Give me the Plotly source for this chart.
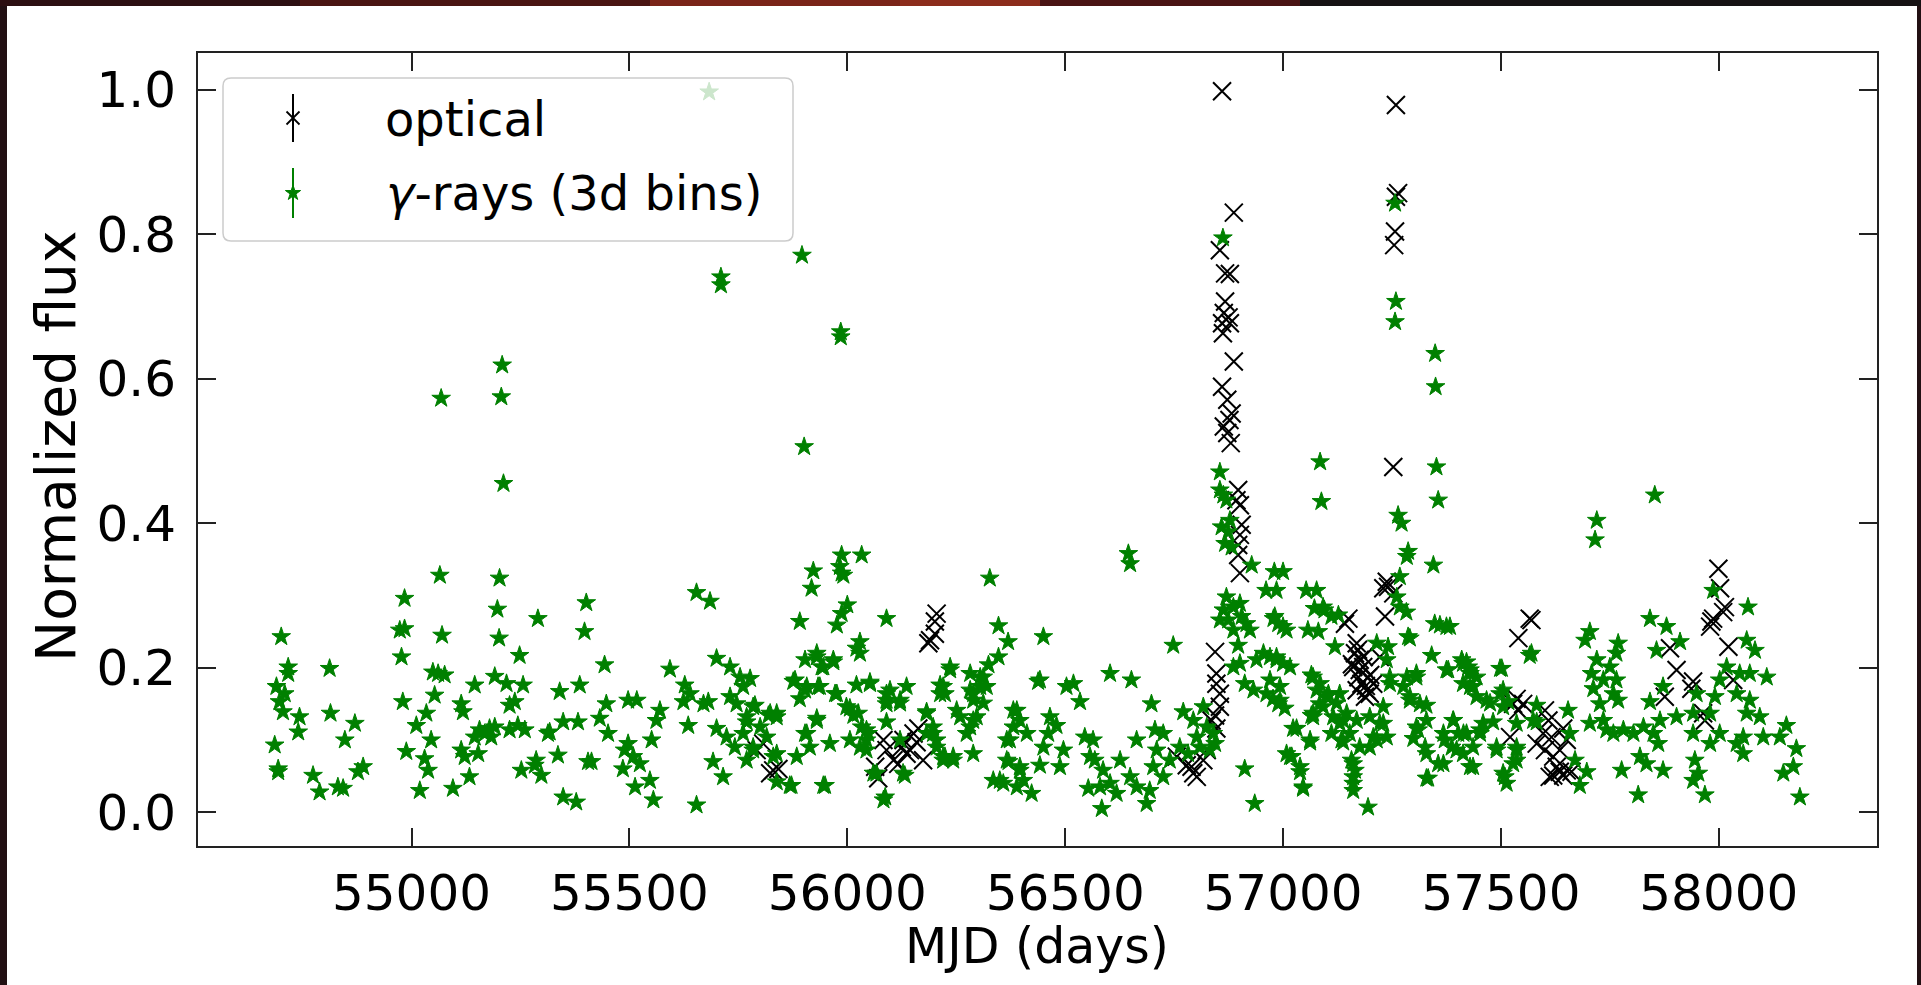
import math
import plotly.graph_objects as go

# ---------------- data ----------------
gamma_mjd = [
    54701, 54717, 54717, 54690, 54709, 54697, 54705, 54743, 54740, 54686, 54694, 54694, 54812, 54814, 54870,
    54847, 54774, 54789, 54831, 54843, 54877, 54889, 54984, 54973, 54984, 54977, 54980, 54988, 55019, 55065,
    55070, 55049, 55061, 55076, 55053, 55034, 55011, 55045, 55030, 55038, 55095, 55114, 55118, 55145, 55114,
    55122, 55133, 55145, 55156, 55168, 55179, 55191, 55183, 55153, 55202, 55197, 55201, 55191, 55218, 55248,
    55256, 55225, 55237, 55244, 55260, 55225, 55290, 55340, 55348, 55317, 55313, 55336, 55286, 55283, 55298,
    55252, 55348, 55378, 55401, 55397, 55386, 55382, 55443, 55447, 55432, 55451, 55405, 55413, 55489, 55485,
    55497, 55068, 55208, 55206, 55211, 55683, 55710, 55710, 55896, 55901, 55985, 55985,
    55654, 55685, 55891, 55922, 55918, 55987, 55983, 55987, 56033, 56000, 55987, 55976, 56090, 56029, 56021,
    56327, 56347, 56369, 56438, 56347, 56324, 56312, 56305, 56236, 56213, 56224, 56282, 56289, 56259, 56289,
    56274, 56243, 56220, 56289, 56335, 56358, 56389, 56423, 56381, 56396, 56412, 56366, 56370, 56396, 56450,
    56442, 55700, 55731, 55754, 55777, 55593, 55627, 55639, 55624, 55570, 55562, 55517, 55681, 55670, 55731,
    55746, 55788, 55635, 55700, 55723, 55769, 55761, 55819, 55838, 55497, 55509, 55524, 55551, 55547, 55513,
    55555, 55654, 55692, 55715, 55742, 55784, 55838, 55838, 55872, 55884, 55903, 55914, 55949, 55960, 55930,
    55876, 55903, 55903, 55930, 55941, 55968, 55937, 55972, 56006, 56014, 56021, 56052, 56033, 56048, 56044,
    56090, 56090, 56136, 56121, 56090, 56121, 56132, 56087, 56060, 56182, 56197, 56205, 56224,
    57085, 57088, 57352, 57356, 56645, 56649, 56855, 56855, 56863, 56870, 56859, 56878, 56874, 56867, 56882,
    56928, 57264, 57272, 57287, 57284, 57345, 57268, 57261, 57268, 57283, 57287, 57348, 57375, 57341, 57379,
    57410, 57425, 57413, 56980, 56961, 57053, 57072, 57095, 57057, 57111, 56870, 56863, 56886, 56901, 56855,
    56874, 56905, 56916, 56886, 56924, 56897, 56978, 56989, 57008, 56748, 56450, 56955, 56970, 56985, 57000,
    57016, 56939, 56886, 56901, 56912, 56932, 56962, 56977, 56989, 57004, 56970, 57069, 57077, 57100, 57084,
    57130, 57115, 57138, 57065, 57111, 57134, 57153, 57176, 57222, 57207, 57238, 57245, 57230, 57276, 57306,
    57291, 57314, 57329, 57310, 57299, 57326, 57333, 57356, 57371, 57390, 57402, 57413, 57398, 57157, 57165,
    57161, 57195, 57046, 57039, 57020, 57008, 57069, 57062, 57023, 56912, 56935, 56844, 56832, 56840, 56825,
    56817, 56771, 56794, 56802, 56698, 56664, 56706, 56725, 56710, 56702, 56694, 56687, 56725, 56740, 56652,
    56603, 56519, 56503, 56534, 56465, 56480, 56461, 56442, 56496, 56488, 56545, 56564, 56557, 56568, 56587,
    56603, 56580, 56553, 56618, 56584, 56626, 56649, 56664, 56763, 56782, 56809,
    56862, 57257, 57259, 57257, 57349, 57350,
    57853, 57720, 57716, 57987, 58067, 57842, 57880, 57704, 57693, 57769, 57911, 57857, 57720, 57708, 57750,
    57765, 58064, 58083, 58110, 58018, 58048, 58071, 58002, 58041, 58071, 58094, 58064, 58102, 58056, 58041,
    58056, 58155, 58140, 58178, 58171, 58148, 58186, 57991, 57980, 58002, 57980, 57949, 57941, 57941, 57945,
    57953, 57941, 57968, 57903, 57872, 57842, 57865, 57850, 57861, 57827, 57819, 57834, 57872, 57815, 57777,
    57804, 57781, 57758, 57742, 57735, 57704, 57727, 57758, 57712, 57735, 57765, 57769, 57697, 57681, 57654,
    57658, 57498, 57429, 57413, 57436, 57467, 57498, 57517, 57566, 57582, 57582, 57536, 57482, 57452, 57421,
    57436, 57490, 57536, 57528, 57436, 57509, 57513, 57670,
    57000, 56985, 57077, 57092, 56981, 57000, 57081, 57127, 57291, 57360, 57383, 57570, 56985, 56993, 56993,
    57065, 57085, 57104, 57123, 57119, 57215, 57241, 57238, 57245, 57284, 57306, 57291, 57329, 57375, 57421,
    57429, 57444, 57429, 57444, 57475, 57502, 57505, 57069, 57031, 57062, 57016, 57039, 57046, 57130, 57146,
    57169, 57199, 57230, 57138, 57199, 57215, 57161, 57161, 57161, 57306, 57329, 57329, 57368, 57391, 57387,
    57368, 57429, 57414, 57459, 57452, 57490, 57505, 57536, 57536, 57574, 57505, 57092,
    55991, 56029, 55930, 55968, 55945, 55880, 55907, 55933, 55891, 55976, 56052, 56098, 56090, 56121, 55998,
    56025, 56044, 56044, 55761, 55784, 55823, 55838, 55769, 55800, 55815, 55784, 55769, 55830, 55868, 55907,
    55930, 55945, 56006, 56029, 56083, 56128, 56067, 56182, 56182, 56197, 56205, 56220, 56243, 56220, 56213,
    56236, 56282, 56305, 56289, 56320, 56251, 56297, 56282, 56312, 56389, 56381, 56373, 56366, 56396, 56350,
    56404,
]
gamma_flux = [
    0.243, 0.201, 0.192, 0.174, 0.164, 0.153, 0.139, 0.132, 0.111, 0.093, 0.060, 0.056, 0.199, 0.137, 0.123,
    0.100, 0.051, 0.028, 0.035, 0.033, 0.056, 0.063, 0.296, 0.252, 0.254, 0.215, 0.153, 0.084, 0.030, 0.328,
    0.245, 0.194, 0.192, 0.190, 0.162, 0.137, 0.120, 0.100, 0.074, 0.058, 0.033, 0.150, 0.139, 0.176, 0.086,
    0.077, 0.049, 0.104, 0.114, 0.109, 0.116, 0.118, 0.104, 0.081, 0.324, 0.281, 0.241, 0.188, 0.178, 0.217,
    0.176, 0.148, 0.153, 0.120, 0.114, 0.114, 0.268, 0.167, 0.125, 0.111, 0.109, 0.079, 0.072, 0.065, 0.051,
    0.058, 0.021, 0.014, 0.290, 0.250, 0.176, 0.125, 0.204, 0.150, 0.130, 0.109, 0.070, 0.070, 0.086, 0.060,
    0.155, 0.573, 0.619, 0.575, 0.455, 0.997, 0.741, 0.730, 0.771, 0.506, 0.665, 0.658,
    0.304, 0.292, 0.264, 0.334, 0.310, 0.356, 0.340, 0.331, 0.356, 0.287, 0.275, 0.259, 0.268, 0.236, 0.227,
    0.324, 0.258, 0.236, 0.181, 0.215, 0.204, 0.187, 0.174, 0.201, 0.176, 0.164, 0.169, 0.155, 0.132, 0.127,
    0.109, 0.077, 0.072, 0.081, 0.044, 0.040, 0.035, 0.026, 0.141, 0.127, 0.109, 0.100, 0.070, 0.058, 0.090,
    0.065, 0.213, 0.201, 0.187, 0.185, 0.198, 0.176, 0.164, 0.153, 0.141, 0.127, 0.155, 0.153, 0.150, 0.160,
    0.150, 0.148, 0.120, 0.116, 0.104, 0.125, 0.109, 0.134, 0.137, 0.095, 0.077, 0.067, 0.100, 0.044, 0.035,
    0.017, 0.010, 0.070, 0.049, 0.090, 0.086, 0.081, 0.042, 0.037, 0.077, 0.109, 0.090, 0.037, 0.095, 0.130,
    0.181, 0.169, 0.211, 0.220, 0.201, 0.211, 0.174, 0.164, 0.144, 0.134, 0.176, 0.178, 0.118, 0.109, 0.086,
    0.164, 0.150, 0.174, 0.155, 0.125, 0.100, 0.051, 0.021, 0.054, 0.139, 0.109, 0.100, 0.077,
    0.485, 0.430, 0.478, 0.432, 0.358, 0.344, 0.471, 0.446, 0.439, 0.432, 0.395, 0.404, 0.388, 0.372, 0.367,
    0.342, 0.411, 0.400, 0.361, 0.354, 0.342, 0.326, 0.298, 0.284, 0.277, 0.243, 0.261, 0.257, 0.217, 0.197,
    0.211, 0.201, 0.178, 0.333, 0.307, 0.307, 0.282, 0.280, 0.252, 0.271, 0.298, 0.280, 0.284, 0.289, 0.266,
    0.266, 0.271, 0.261, 0.252, 0.252, 0.231, 0.268, 0.261, 0.252, 0.231, 0.243, 0.220, 0.215, 0.211, 0.206,
    0.201, 0.211, 0.201, 0.206, 0.178, 0.169, 0.164, 0.157, 0.150, 0.144, 0.183, 0.187, 0.169, 0.160, 0.150,
    0.164, 0.132, 0.127, 0.134, 0.109, 0.100, 0.109, 0.090, 0.123, 0.104, 0.104, 0.178, 0.146, 0.174, 0.187,
    0.155, 0.150, 0.127, 0.114, 0.102, 0.090, 0.047, 0.067, 0.100, 0.127, 0.109, 0.081, 0.086, 0.072, 0.058,
    0.040, 0.007, 0.035, 0.063, 0.077, 0.081, 0.137, 0.100, 0.116, 0.060, 0.012, 0.095, 0.086, 0.109, 0.118,
    0.146, 0.139, 0.127, 0.104, 0.150, 0.100, 0.114, 0.109, 0.086, 0.063, 0.030, 0.012, 0.049, 0.072, 0.183,
    0.192, 0.178, 0.174, 0.153, 0.132, 0.120, 0.109, 0.183, 0.086, 0.063, 0.104, 0.100, 0.077, 0.072, 0.058,
    0.040, 0.035, 0.033, 0.026, 0.005, 0.072, 0.049, 0.035, 0.090, 0.081, 0.090,
    0.795, 0.843, 0.707, 0.679, 0.635, 0.589,
    0.439, 0.404, 0.377, 0.307, 0.284, 0.268, 0.257, 0.250, 0.238, 0.234, 0.236, 0.224, 0.211, 0.192, 0.201,
    0.220, 0.238, 0.224, 0.187, 0.201, 0.192, 0.192, 0.183, 0.164, 0.155, 0.132, 0.137, 0.104, 0.104, 0.095,
    0.081, 0.120, 0.104, 0.088, 0.063, 0.054, 0.021, 0.160, 0.137, 0.109, 0.095, 0.164, 0.137, 0.109, 0.072,
    0.054, 0.044, 0.024, 0.132, 0.174, 0.153, 0.127, 0.109, 0.095, 0.118, 0.077, 0.067, 0.058, 0.024, 0.058,
    0.109, 0.114, 0.109, 0.114, 0.127, 0.123, 0.150, 0.164, 0.171, 0.183, 0.183, 0.155, 0.056, 0.037, 0.141,
    0.109, 0.199, 0.197, 0.206, 0.174, 0.155, 0.164, 0.153, 0.217, 0.148, 0.125, 0.123, 0.125, 0.114, 0.109,
    0.090, 0.090, 0.086, 0.067, 0.063, 0.049, 0.040, 0.072,
    0.333, 0.307, 0.307, 0.284, 0.271, 0.257, 0.250, 0.273, 0.241, 0.259, 0.257, 0.220, 0.215, 0.174, 0.155,
    0.190, 0.178, 0.164, 0.151, 0.229, 0.234, 0.229, 0.211, 0.187, 0.187, 0.192, 0.160, 0.148, 0.197, 0.208,
    0.192, 0.187, 0.174, 0.160, 0.151, 0.199, 0.169, 0.132, 0.116, 0.097, 0.077, 0.056, 0.033, 0.123, 0.137,
    0.127, 0.132, 0.123, 0.097, 0.090, 0.100, 0.067, 0.049, 0.030, 0.118, 0.081, 0.047, 0.109, 0.127, 0.090,
    0.067, 0.063, 0.109, 0.123, 0.109, 0.086, 0.054, 0.072, 0.090, 0.127, 0.146, 0.146,
    0.328, 0.220, 0.215, 0.208, 0.201, 0.183, 0.174, 0.174, 0.157, 0.164, 0.180, 0.169, 0.155, 0.151, 0.146,
    0.137, 0.114, 0.100, 0.174, 0.146, 0.137, 0.132, 0.132, 0.118, 0.104, 0.090, 0.072, 0.077, 0.037, 0.109,
    0.127, 0.037, 0.100, 0.090, 0.017, 0.054, 0.054, 0.137, 0.109, 0.118, 0.090, 0.077, 0.072, 0.174, 0.164,
    0.197, 0.192, 0.187, 0.164, 0.174, 0.141, 0.132, 0.118, 0.151, 0.141, 0.118, 0.100, 0.072, 0.063, 0.044,
    0.044,
]

optical_mjd = [
    56205, 56201, 56201, 56190, 56186, 55807, 55792, 55830, 55823, 55842, 56083, 56071, 56064, 56106, 56125,
    56136, 56152, 56163, 56159, 56144, 56174, 56129, 56117, 56090,
    56860, 57259, 57264, 57259, 57257, 57255, 56887, 56855, 56867, 56878, 56867, 56864, 56875, 56860, 56878,
    56862, 56887, 56860, 56872, 56882, 56877, 56864, 56872, 56880, 56897, 56893, 56901, 56905, 56901, 56897,
    56897, 56901, 57253, 56844, 56847, 56847, 56855, 56844, 56836, 56847, 56855, 56817, 56756, 56790, 56794,
    56802, 56779, 56825, 57238, 57241, 57253, 57230, 57234, 57150, 57142, 57169, 57165, 57176, 57161, 57184,
    57173, 57195, 57180, 57207, 57169, 57192, 57188, 57199, 57222, 57176,
    57999, 58003, 58014, 58010, 57987, 57980, 57983, 58022, 57888, 57903, 57941, 57937, 57876, 57964, 57968,
    58033, 57566, 57570, 57540, 57536, 57551, 57540, 57528, 57521, 57601, 57609, 57597, 57582, 57601, 57620,
    57635, 57643, 57651, 57616, 57628, 57620, 57635, 57651, 57662, 57612, 57643,
    57158, 57190, 57200, 57172, 57185,
]
optical_flux = [
    0.275, 0.264, 0.247, 0.238, 0.234, 0.095, 0.086, 0.058, 0.054, 0.060, 0.100, 0.047, 0.063, 0.072, 0.090,
    0.081, 0.109, 0.116, 0.097, 0.086, 0.072, 0.100, 0.067, 0.086,
    0.998, 0.979, 0.857, 0.852, 0.804, 0.785, 0.830, 0.778, 0.746, 0.745, 0.707, 0.691, 0.685, 0.677, 0.677,
    0.663, 0.624, 0.589, 0.571, 0.552, 0.543, 0.534, 0.525, 0.511, 0.446, 0.432, 0.425, 0.398, 0.384, 0.370,
    0.356, 0.331, 0.478, 0.222, 0.192, 0.178, 0.164, 0.134, 0.127, 0.116, 0.146, 0.072, 0.077, 0.063, 0.054,
    0.049, 0.065, 0.086, 0.319, 0.312, 0.303, 0.310, 0.271, 0.268, 0.261, 0.234, 0.220, 0.211, 0.201, 0.201,
    0.187, 0.187, 0.178, 0.178, 0.169, 0.169, 0.160, 0.164, 0.215, 0.197,
    0.337, 0.310, 0.284, 0.277, 0.268, 0.257, 0.264, 0.229, 0.227, 0.197, 0.181, 0.171, 0.160, 0.137, 0.127,
    0.183, 0.268, 0.266, 0.241, 0.157, 0.150, 0.141, 0.150, 0.104, 0.141, 0.127, 0.109, 0.095, 0.086, 0.077,
    0.086, 0.116, 0.100, 0.104, 0.063, 0.051, 0.056, 0.058, 0.056, 0.049, 0.051,
    0.205, 0.175, 0.190, 0.225, 0.215,
]
assert len(gamma_mjd) == len(gamma_flux), (len(gamma_mjd), len(gamma_flux))
assert len(optical_mjd) == len(optical_flux), (len(optical_mjd), len(optical_flux))

x_ticks = [55000, 55500, 56000, 56500, 57000, 57500, 58000]
y_ticks = [0.0, 0.2, 0.4, 0.6, 0.8, 1.0]
legend_labels = ["optical", "<i>γ</i>-rays (3d bins)"]
x_title = "MJD (days)"
y_title = "Normalized flux"

# ---------------- layout geometry (pixels) ----------------
W, H = 1921, 985
L, R, T, B = 198, 1877, 53, 846
PW, PH = R - L, B - T


def px(xp):
    return (xp - L) / PW


def py(yp):
    return (B - yp) / PH


FONT = "DejaVu Sans"
GREEN = "#008000"

fig = go.Figure()
fig.add_trace(go.Scatter(
    x=optical_mjd, y=optical_flux, mode="markers", name=legend_labels[0], showlegend=False,
    marker=dict(symbol="x-thin", size=18, line=dict(color="black", width=2)),
))
fig.add_trace(go.Scatter(
    x=gamma_mjd, y=gamma_flux, mode="markers", name="gamma", showlegend=False,
    marker=dict(symbol="star", size=14, color=GREEN, line=dict(color=GREEN, width=1)),
))

axis_common = dict(
    showgrid=False, zeroline=False, showline=True, mirror="ticks", linecolor="#222", linewidth=2,
    ticks="inside", ticklen=18, tickwidth=2, tickcolor="#222",
    tickfont=dict(family=FONT, size=50, color="black"),
)
fig.update_xaxes(range=[54510, 58363], tickvals=x_ticks, ticktext=[str(v) for v in x_ticks],
                 ticklabelstandoff=2, **axis_common)
fig.update_yaxes(range=[-0.0467, 1.051], tickvals=y_ticks, ticktext=[f"{v:.1f}" for v in y_ticks],
                 ticklabelstandoff=10, **axis_common)

shapes = []
# dark slide background pieces and white figure sheet
shapes.append(dict(type="rect", xref="paper", yref="paper", layer="below",
                   x0=px(7), x1=px(1917), y0=py(990), y1=py(6),
                   fillcolor="white", line=dict(width=0)))
band = [(0, 300, "#2c0f12"), (300, 650, "#4a1512"), (650, 900, "#7a2418"), (900, 1040, "#8c2c1c"),
        (1040, 1300, "#4a1414"), (1300, 1921, "#161214")]
for a, b, c in band:
    shapes.append(dict(type="rect", xref="paper", yref="paper", layer="below",
                       x0=px(a), x1=px(b), y0=py(6), y1=py(-2), fillcolor=c, line=dict(width=0)))

# legend frame (rounded, semi transparent)
lx0, lx1, ly0, ly1 = 223, 793, 78, 241
rr = 8
rx, ry = rr / PW, rr / PH
X0, X1, Y0, Y1 = px(lx0), px(lx1), py(ly1), py(ly0)
path = (f"M {X0+rx},{Y0} L {X1-rx},{Y0} Q {X1},{Y0} {X1},{Y0+ry} L {X1},{Y1-ry} "
        f"Q {X1},{Y1} {X1-rx},{Y1} L {X0+rx},{Y1} Q {X0},{Y1} {X0},{Y1-ry} L {X0},{Y0+ry} "
        f"Q {X0},{Y0} {X0+rx},{Y0} Z")
shapes.append(dict(type="path", xref="paper", yref="paper", layer="above", path=path,
                   fillcolor="rgba(255,255,255,0.8)", line=dict(color="#cccccc", width=1.5)))

sym_x = px(293)
opt_y, gam_y = py(118), py(193)
# optical legend symbol: error bar + x
shapes.append(dict(type="line", xref="paper", yref="paper", layer="above", xsizemode="pixel", ysizemode="pixel",
                   xanchor=sym_x, yanchor=opt_y, x0=0, x1=0, y0=-24, y1=24, line=dict(color="black", width=2)))
for s in (1, -1):
    shapes.append(dict(type="line", xref="paper", yref="paper", layer="above", xsizemode="pixel",
                       ysizemode="pixel", xanchor=sym_x, yanchor=opt_y, x0=-6.5, x1=6.5, y0=-6.5 * s,
                       y1=6.5 * s, line=dict(color="black", width=1.8)))
# gamma legend symbol: error bar + star
shapes.append(dict(type="line", xref="paper", yref="paper", layer="above", xsizemode="pixel", ysizemode="pixel",
                   xanchor=sym_x, yanchor=gam_y, x0=0, x1=0, y0=-25, y1=25, line=dict(color=GREEN, width=2)))
Rs = 8
pts = []
for k in range(10):
    ang = math.pi / 2 + k * math.pi / 5
    rad = Rs if k % 2 == 0 else Rs * 0.382
    pts.append(f"{rad*math.cos(ang):.2f},{rad*math.sin(ang):.2f}")
star_path = "M " + " L ".join(pts) + " Z"
shapes.append(dict(type="path", xref="paper", yref="paper", layer="above", xsizemode="pixel", ysizemode="pixel",
                   xanchor=sym_x, yanchor=gam_y, path=star_path, fillcolor=GREEN,
                   line=dict(color=GREEN, width=1)))

annotations = [
    dict(text=legend_labels[0], x=px(383), y=py(119), xref="paper", yref="paper", xanchor="left",
         yanchor="middle", showarrow=False, font=dict(family=FONT, size=48, color="black")),
    dict(text=legend_labels[1], x=px(384), y=py(193), xref="paper", yref="paper", xanchor="left",
         yanchor="middle", showarrow=False, font=dict(family=FONT, size=48, color="black")),
    dict(text=x_title, x=px(1037), y=py(946), xref="paper", yref="paper", xanchor="center",
         yanchor="middle", showarrow=False, font=dict(family=FONT, size=49, color="black")),
    dict(text=y_title, x=px(56), y=py(447), xref="paper", yref="paper", xanchor="center",
         yanchor="middle", showarrow=False, textangle=-90, font=dict(family=FONT, size=55, color="black")),
]

fig.update_layout(
    width=W, height=H, autosize=False,
    margin=dict(l=L, r=W - R, t=T, b=H - B, pad=0),
    paper_bgcolor="#221013", plot_bgcolor="white",
    showlegend=False, shapes=shapes, annotations=annotations,
    font=dict(family=FONT),
)

fig.write_html(
    "out.html",
    config={"displayModeBar": False},
    post_script="document.body.style.margin='0px';document.body.style.overflow='hidden';",
)
